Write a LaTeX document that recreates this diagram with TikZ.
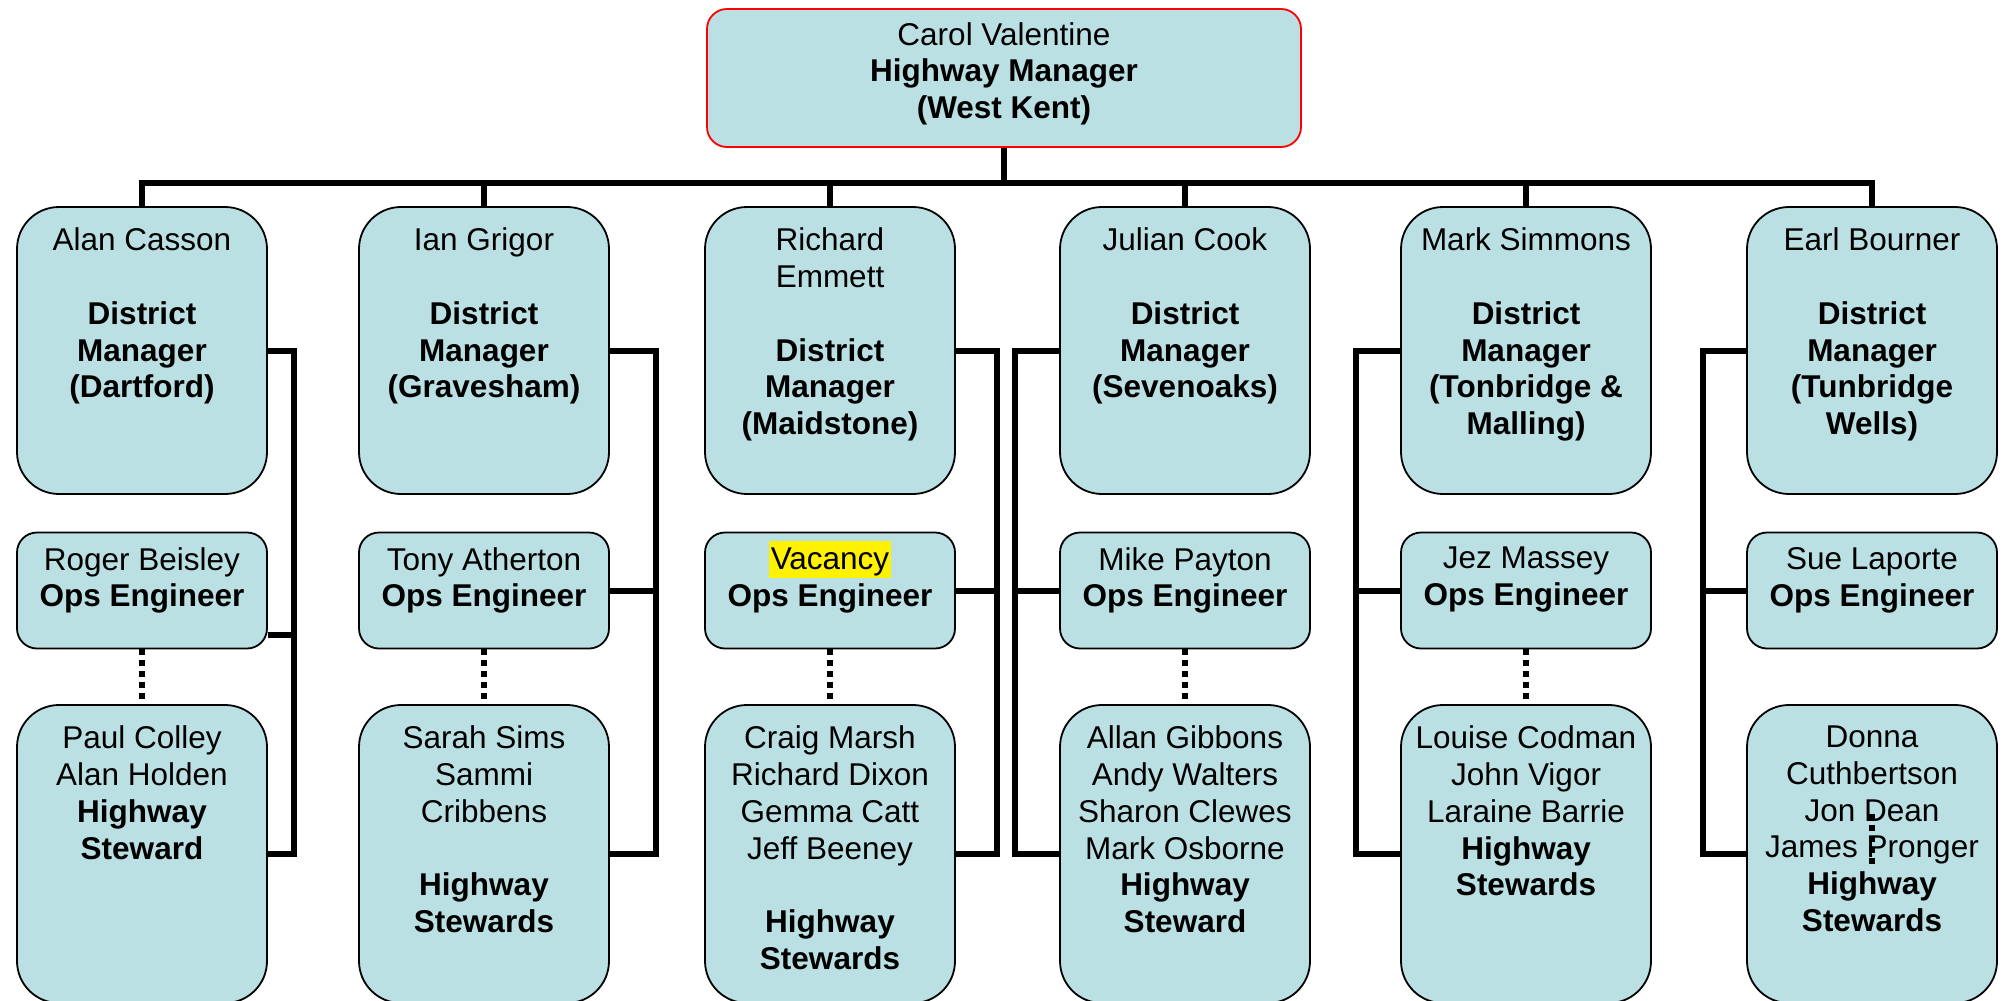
\documentclass[tikz,border=0pt]{standalone}
\usepackage{fontspec}
\setmainfont{Liberation Sans}
\definecolor{boxblue}{RGB}{187,224,227}
\setlength{\fboxsep}{1.5pt}
\tikzset{
  box/.style={draw=black, line width=1.8pt, fill=boxblue, inner sep=0pt},
  headbox/.style={box, draw=red, rounded corners=20pt, minimum width=594pt, minimum height=138pt},
  dmbox/.style={box, rounded corners=42pt, minimum width=250pt, minimum height=287pt},
  opsbox/.style={box, rounded corners=20pt, minimum width=250pt, minimum height=116pt},
  stbox/.style={box, rounded corners=42pt, minimum width=250pt, minimum height=298pt},
  txt/.style={anchor=north, align=center, inner sep=0pt, font=\fontsize{31.5}{36.8}\selectfont},
  link/.style={line width=6pt},
  dotlink/.style={line width=5.5pt, dash pattern=on 6pt off 5pt},
}
\begin{document}
\begin{tikzpicture}[x=1pt,y=-1pt]
  \useasboundingbox (0,0) rectangle (2002,1001);
  % head of the chart
  \node[headbox] at (1004,78) (head) {};
  \node[txt] at ([yshift=-14pt]head.north) (headt) {Carol Valentine\\\textbf{Highway Manager}\\\textbf{(West Kent)}};
  \coordinate (bus) at (1004,183);
  % district managers
  \node[dmbox] at (142,350.5) (dm1) {};
  \node[dmbox] at (484,350.5) (dm2) {};
  \node[dmbox] at (830,350.5) (dm3) {};
  \node[dmbox] at (1185,350.5) (dm4) {};
  \node[dmbox] at (1526,350.5) (dm5) {};
  \node[dmbox] at (1872,350.5) (dm6) {};
  \node[txt] at ([yshift=-21.5pt]dm1.north) (dm1t) {Alan Casson\\[36.8pt]\textbf{District}\\\textbf{Manager}\\\textbf{(Dartford)}};
  \node[txt] at ([yshift=-21.5pt]dm2.north) (dm2t) {Ian Grigor\\[36.8pt]\textbf{District}\\\textbf{Manager}\\\textbf{(Gravesham)}};
  \node[txt] at ([yshift=-21.5pt]dm3.north) (dm3t) {Richard\\Emmett\\[36.8pt]\textbf{District}\\\textbf{Manager}\\\textbf{(Maidstone)}};
  \node[txt] at ([yshift=-21.5pt]dm4.north) (dm4t) {Julian Cook\\[36.8pt]\textbf{District}\\\textbf{Manager}\\\textbf{(Sevenoaks)}};
  \node[txt] at ([yshift=-21.5pt]dm5.north) (dm5t) {Mark Simmons\\[36.8pt]\textbf{District}\\\textbf{Manager}\\\textbf{(Tonbridge \&}\\\textbf{Malling)}};
  \node[txt] at ([yshift=-21.5pt]dm6.north) (dm6t) {Earl Bourner\\[36.8pt]\textbf{District}\\\textbf{Manager}\\\textbf{(Tunbridge}\\\textbf{Wells)}};
  % ops engineers
  \node[opsbox] at (142,590.5) (ops1) {};
  \node[opsbox] at (484,590.5) (ops2) {};
  \node[opsbox] at (830,590.5) (ops3) {};
  \node[opsbox] at (1185,590.5) (ops4) {};
  \node[opsbox] at (1526,590.5) (ops5) {};
  \node[opsbox] at (1872,590.5) (ops6) {};
  \node[txt] at ([yshift=-15.5pt]ops1.north) (ops1t) {Roger Beisley\\\textbf{Ops Engineer}};
  \node[txt] at ([yshift=-15.5pt]ops2.north) (ops2t) {Tony Atherton\\\textbf{Ops Engineer}};
  \node[txt] at ([yshift=-9pt]ops3.north) (ops3t) {\colorbox{yellow}{\rule[-6.5pt]{0pt}{34pt}Vacancy}\\\textbf{Ops Engineer}};
  \node[txt] at ([yshift=-15.5pt]ops4.north) (ops4t) {Mike Payton\\\textbf{Ops Engineer}};
  \node[txt] at ([yshift=-15.5pt]ops5.north) (ops5t) {Jez Massey\\\textbf{Ops Engineer}};
  \node[txt] at ([yshift=-15.5pt]ops6.north) (ops6t) {Sue Laporte\\\textbf{Ops Engineer}};
  % highway stewards
  \node[stbox] at (142,854) (st1) {};
  \node[stbox] at (484,854) (st2) {};
  \node[stbox] at (830,854) (st3) {};
  \node[stbox] at (1185,854) (st4) {};
  \node[stbox] at (1526,854) (st5) {};
  \node[stbox] at (1872,854) (st6) {};
  \node[txt] at ([yshift=-21.5pt]st1.north) (st1t) {Paul Colley\\Alan Holden\\\textbf{Highway}\\\textbf{Steward}};
  \node[txt] at ([yshift=-21.5pt]st2.north) (st2t) {Sarah Sims\\Sammi\\Cribbens\\[36.8pt]\textbf{Highway}\\\textbf{Stewards}};
  \node[txt] at ([yshift=-21.5pt]st3.north) (st3t) {Craig Marsh\\Richard Dixon\\Gemma Catt\\Jeff Beeney\\[36.8pt]\textbf{Highway}\\\textbf{Stewards}};
  \node[txt] at ([yshift=-21.5pt]st4.north) (st4t) {Allan Gibbons\\Andy Walters\\Sharon Clewes\\Mark Osborne\\\textbf{Highway}\\\textbf{Steward}};
  \node[txt] at ([yshift=-21.5pt]st5.north) (st5t) {Louise Codman\\John Vigor\\Laraine Barrie\\\textbf{Highway}\\\textbf{Stewards}};
  \node[txt] at ([yshift=-21.5pt]st6.north) (st6t) {Donna\\Cuthbertson\\Jon Dean\\James Pronger\\\textbf{Highway}\\\textbf{Stewards}};
  % top lines
  \draw[link] (head.south) -- (bus);
  \draw[link] (dm1.north) |- (bus) -| (dm6.north);
  \draw[link] (dm2.north) -- (dm2.north |- bus);
  \draw[link] (dm3.north) -- (dm3.north |- bus);
  \draw[link] (dm4.north) -- (dm4.north |- bus);
  \draw[link] (dm5.north) -- (dm5.north |- bus);
  % side bars
  \coordinate (bar1) at (294,0);
  \coordinate (bar2) at (656,0);
  \coordinate (bar3) at (997,0);
  \coordinate (bar4) at (1015,0);
  \coordinate (bar5) at (1356,0);
  \coordinate (bar6) at (1703,0);
  \draw[link] (dm1.east) -| (st1.east -| bar1) -- (st1.east);
  \draw[link] ([yshift=-44.5pt]ops1.east) -- ([yshift=-44.5pt]ops1.east -| bar1);
  \draw[link] (dm2.east) -| (st2.east -| bar2) -- (st2.east);
  \draw[link] (ops2.east) -- (ops2.east -| bar2);
  \draw[link] (dm3.east) -| (st3.east -| bar3) -- (st3.east);
  \draw[link] (ops3.east) -- (ops3.east -| bar3);
  \draw[link] (dm4.west) -| (st4.west -| bar4) -- (st4.west);
  \draw[link] (ops4.west) -- (ops4.west -| bar4);
  \draw[link] (dm5.west) -| (st5.west -| bar5) -- (st5.west);
  \draw[link] (ops5.west) -- (ops5.west -| bar5);
  \draw[link] (dm6.west) -| (st6.west -| bar6) -- (st6.west);
  \draw[link] (ops6.west) -- (ops6.west -| bar6);
  % dotted lines
  \draw[dotlink] (ops1.south) -- (st1.north);
  \draw[dotlink] (ops2.south) -- (st2.north);
  \draw[dotlink] (ops3.south) -- (st3.north);
  \draw[dotlink] (ops4.south) -- (st4.north);
  \draw[dotlink] (ops5.south) -- (st5.north);
  \draw[dotlink] ([yshift=-110pt]st6.north) -- ([yshift=-160pt]st6.north);
\end{tikzpicture}
\end{document}
